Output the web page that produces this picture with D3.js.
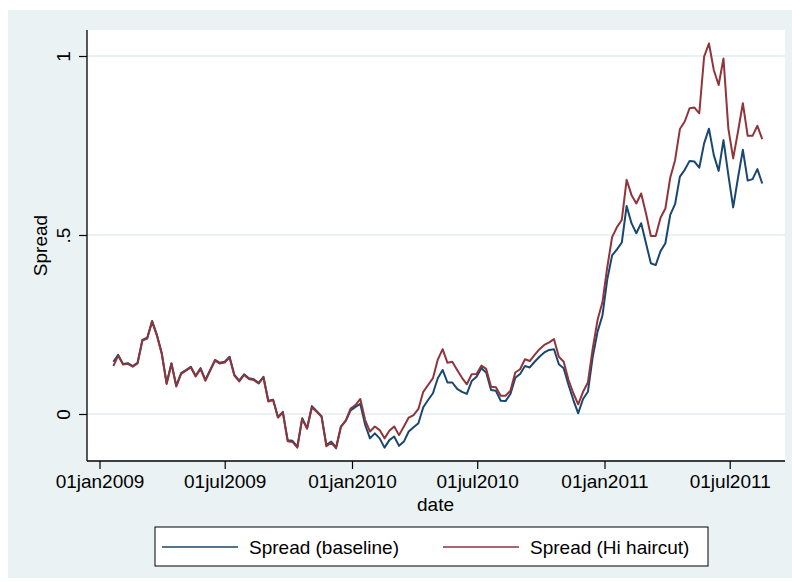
<html>
  <head>
    <style>
      body { margin: 0; background: #fff; }
      text { font-family: "Liberation Sans", Arial, Helvetica, sans-serif; fill: #000; }
    </style>
  </head>
  <body>
    <svg width="792" height="582"></svg>
    <script src="https://d3js.org/d3.v7.min.js"></script>
    <script>
      // weekly observations, first one on this date
      var startDate = "2009-01-21";

      var baseline = [
        0.146, 0.165, 0.140, 0.142, 0.134, 0.143, 0.207, 0.213, 0.260, 0.221,
        0.170, 0.086, 0.142, 0.079, 0.114, 0.123, 0.132, 0.107, 0.128, 0.095,
        0.123, 0.151, 0.143, 0.146, 0.160, 0.109, 0.093, 0.111, 0.100, 0.097,
        0.087, 0.104, 0.037, 0.040, -0.009, 0.006, -0.073, -0.075, -0.091, -0.012,
        -0.040, 0.022, 0.008, -0.006, -0.087, -0.077, -0.093, -0.035, -0.019, 0.010,
        0.020, 0.028, -0.030, -0.068, -0.054, -0.068, -0.094, -0.073, -0.063, -0.089,
        -0.077, -0.049, -0.037, -0.026, 0.019, 0.039, 0.058, 0.100, 0.123, 0.088,
        0.088, 0.070, 0.062, 0.056, 0.092, 0.104, 0.128, 0.116, 0.067, 0.065,
        0.037, 0.036, 0.056, 0.101, 0.112, 0.134, 0.130, 0.146, 0.160, 0.172,
        0.179, 0.181, 0.139, 0.128, 0.081, 0.039, 0.002, 0.042, 0.062, 0.160,
        0.230, 0.275, 0.376, 0.443, 0.460, 0.479, 0.581, 0.533, 0.505, 0.533,
        0.477, 0.421, 0.416, 0.455, 0.477, 0.556, 0.586, 0.663, 0.682, 0.707,
        0.705, 0.688, 0.756, 0.797, 0.723, 0.679, 0.765, 0.668, 0.577, 0.660,
        0.738, 0.652, 0.656, 0.684, 0.644
      ];

      var haircut = [
        0.134, 0.163, 0.138, 0.140, 0.132, 0.141, 0.205, 0.211, 0.258, 0.219,
        0.168, 0.084, 0.140, 0.077, 0.112, 0.121, 0.130, 0.105, 0.126, 0.093,
        0.121, 0.149, 0.141, 0.144, 0.158, 0.107, 0.091, 0.109, 0.098, 0.095,
        0.085, 0.102, 0.035, 0.039, -0.010, 0.004, -0.076, -0.078, -0.094, -0.013,
        -0.041, 0.018, 0.006, -0.008, -0.090, -0.080, -0.096, -0.036, -0.018, 0.015,
        0.025, 0.042, -0.017, -0.049, -0.035, -0.045, -0.068, -0.047, -0.035, -0.059,
        -0.035, -0.010, -0.003, 0.014, 0.062, 0.081, 0.100, 0.152, 0.181, 0.143,
        0.146, 0.123, 0.101, 0.083, 0.111, 0.112, 0.135, 0.126, 0.076, 0.075,
        0.051, 0.051, 0.065, 0.116, 0.125, 0.153, 0.148, 0.165, 0.181, 0.193,
        0.200, 0.209, 0.160, 0.146, 0.095, 0.058, 0.027, 0.062, 0.088, 0.183,
        0.263, 0.312, 0.410, 0.494, 0.522, 0.542, 0.654, 0.612, 0.588, 0.616,
        0.560, 0.497, 0.497, 0.548, 0.574, 0.660, 0.709, 0.796, 0.817, 0.854,
        0.856, 0.840, 0.998, 1.035, 0.961, 0.919, 0.993, 0.798, 0.714, 0.789,
        0.868, 0.777, 0.777, 0.805, 0.768
      ];

      var seriesNames  = ["Spread (baseline)", "Spread (Hi haircut)"];
      var seriesColors = ["#1a476f", "#90353b"];
      var xTickDates   = ["2009-01-01", "2009-07-01", "2010-01-01", "2010-07-01", "2011-01-01", "2011-07-01"];
      var xTickLabels  = ["01jan2009", "01jul2009", "01jan2010", "01jul2010", "01jan2011", "01jul2011"];
      var yTicks       = [0, 0.5, 1];
      var yTickLabels  = ["0", ".5", "1"];

      var parse = d3.utcParse("%Y-%m-%d");
      var start = parse(startDate);
      var dates = baseline.map(function(d, i) { return d3.utcDay.offset(start, 7 * i); });

      var svg = d3.select("svg");
      var plot = { left: 87, right: 785, top: 30, bottom: 461 };

      // graph region
      svg.append("rect").attr("x", 8).attr("y", 10).attr("width", 784).attr("height", 568)
          .attr("fill", "#eaf2f3");
      svg.append("rect").attr("x", plot.left).attr("y", plot.top)
          .attr("width", plot.right - plot.left).attr("height", plot.bottom - plot.top)
          .attr("fill", "#fff");

      var x = d3.scaleUtc()
          .domain([parse("2009-01-01"), parse("2011-01-01")])
          .range([99.5, 604.5]);
      var y = d3.scaleLinear().domain([0, 1]).range([414, 56]);

      // gridlines
      svg.append("g").selectAll("line").data(yTicks).enter().append("line")
          .attr("x1", plot.left).attr("x2", plot.right)
          .attr("y1", function(d) { return y(d); }).attr("y2", function(d) { return y(d); })
          .attr("stroke", "#e3ecef").attr("stroke-width", 1.5);

      // y axis
      var yAxis = svg.append("g")
          .attr("transform", "translate(" + plot.left + ",0)")
          .call(d3.axisLeft(y).tickValues(yTicks).tickSize(8)
              .tickFormat(function(d, i) { return yTickLabels[i]; }));
      yAxis.select(".domain").remove();
      yAxis.selectAll("line").attr("stroke", "#000").attr("stroke-width", 1.2);
      yAxis.selectAll("text")
          .attr("font-family", "Liberation Sans, Arial, sans-serif")
          .attr("font-size", 19)
          .attr("x", 0).attr("y", 0).attr("dy", null)
          .attr("text-anchor", "middle")
          .attr("transform", "translate(-17,0) rotate(-90)");
      svg.append("line").attr("x1", plot.left).attr("x2", plot.left)
          .attr("y1", plot.top).attr("y2", plot.bottom)
          .attr("stroke", "#000").attr("stroke-width", 1.3);

      // x axis
      var xAxis = svg.append("g")
          .attr("transform", "translate(0," + plot.bottom + ")")
          .call(d3.axisBottom(x).tickValues(xTickDates.map(parse)).tickSize(8).tickPadding(6)
              .tickFormat(function(d, i) { return xTickLabels[i]; }));
      xAxis.select(".domain").remove();
      xAxis.selectAll("line").attr("stroke", "#000").attr("stroke-width", 1.2);
      xAxis.selectAll("text")
          .attr("font-family", "Liberation Sans, Arial, sans-serif")
          .attr("font-size", 19);
      svg.append("line").attr("x1", plot.left).attr("x2", plot.right)
          .attr("y1", plot.bottom).attr("y2", plot.bottom)
          .attr("stroke", "#000").attr("stroke-width", 1.3);

      // axis titles
      svg.append("text").attr("x", (plot.left + plot.right) / 2 - 0.5).attr("y", 511)
          .attr("text-anchor", "middle").attr("font-size", 19).text("date");
      svg.append("text")
          .attr("transform", "translate(47," + (plot.top + plot.bottom) / 2 + ") rotate(-90)")
          .attr("text-anchor", "middle").attr("font-size", 19).text("Spread");

      // series
      var line = d3.line()
          .x(function(d, i) { return x(dates[i]); })
          .y(function(d) { return y(d); });

      svg.append("g").selectAll("path")
          .data([baseline, haircut])
          .enter().append("path")
          .attr("d", line)
          .attr("fill", "none")
          .attr("stroke", function(d, i) { return seriesColors[i]; })
          .attr("stroke-width", 2)
          .attr("stroke-linejoin", "round");

      // legend
      var legend = svg.append("g");
      legend.append("rect").attr("x", 155).attr("y", 527).attr("width", 553).attr("height", 39)
          .attr("fill", "#fff").attr("stroke", "#000").attr("stroke-width", 1);
      var items = legend.selectAll("g.item").data(seriesNames).enter().append("g")
          .attr("transform", function(d, i) { return "translate(" + [162, 443][i] + ",547)"; });
      items.append("line").attr("x1", 0).attr("x2", 76)
          .attr("stroke", function(d, i) { return seriesColors[i]; })
          .attr("stroke-width", 1.6);
      items.append("text").attr("x", 87).attr("y", 7).attr("font-size", 19)
          .text(function(d) { return d; });
    </script>
  </body>
</html>
